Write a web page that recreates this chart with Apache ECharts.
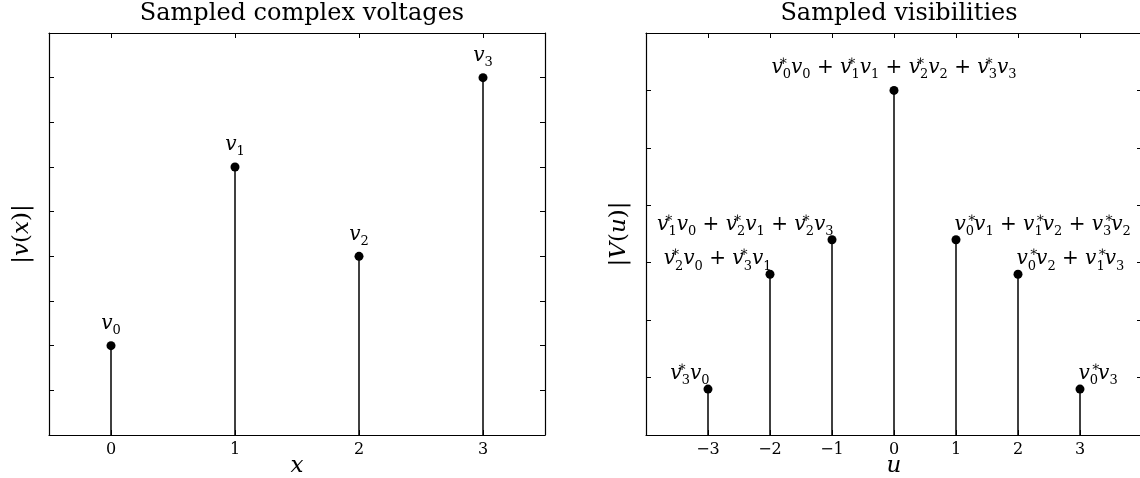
<!DOCTYPE html>
<html>
<head>
<meta charset="utf-8">
<script src="https://cdn.jsdelivr.net/npm/echarts@6/dist/echarts.min.js"></script>
<style>html,body{margin:0;padding:0;background:#fff}#c{width:1140px;height:478px}</style>
</head>
<body>
<div id="c"></div>
<script>
// ---- data ----
const xCategories = ['0', '1', '2', '3'];
const voltages = [2, 6, 4, 8];

const uValues = [-3, -2, -1, 0, 1, 2, 3];
const visibilities = [0.8, 2.8, 3.4, 6.0, 3.4, 2.8, 0.8];
// each term: [conjugated index, index]
const visibilityTerms = [
  [[3, 0]],
  [[2, 0], [3, 1]],
  [[1, 0], [2, 1], [2, 3]],
  [[0, 0], [1, 1], [2, 2], [3, 3]],
  [[0, 1], [1, 2], [3, 2]],
  [[0, 2], [1, 3]],
  [[0, 3]]
];
const leftTitle = 'Sampled complex voltages';
const rightTitle = 'Sampled visibilities';

// ---- helpers ----
const SERIF = "'DejaVu Serif', serif";
function vTok(i, star) {
  return '{v|v}' + (star ? '{sp|\u200a∗}' : '') + '{s|' + i + '}';
}
function visLabel(terms) {
  return terms.map(t => vTok(t[0], true) + vTok(t[1], false)).join('{t| + }');
}
const rich = {
  v: { fontFamily: SERIF, fontStyle: 'italic', fontSize: 20, color: '#000', lineHeight: 27, verticalAlign: 'middle' },
  s: { fontFamily: SERIF, fontSize: 13, color: '#000', lineHeight: 12, verticalAlign: 'bottom' },
  sp: { fontFamily: SERIF, fontSize: 14, color: '#000', lineHeight: 12, verticalAlign: 'top', align: 'left', width: 0.01 },
  t: { fontFamily: SERIF, fontSize: 20, color: '#000', lineHeight: 27 }
};
const nameRich = {
  n: { fontFamily: SERIF, fontSize: 23, color: '#000' },
  i: { fontFamily: SERIF, fontStyle: 'italic', fontSize: 23, color: '#000' }
};

const tickStyle = { show: true, inside: true, length: 5, lineStyle: { color: '#000', width: 1 } };
const lineStyle = { show: true, onZero: false, lineStyle: { color: '#000', width: 1.2 } };
const tickLabel = { fontFamily: SERIF, fontSize: 16, color: '#000', margin: 7 };

const chart = echarts.init(document.getElementById('c'), null, { renderer: 'canvas' });

const leftData = voltages.map((v, i) => ({
  value: [xCategories[i], v],
  label: { formatter: vTok(i, false) }
}));
const rightData = visibilities.map((v, i) => {
  const u = uValues[i];
  let label;
  if (u === 0) label = { position: [4.5, -5], align: 'center', verticalAlign: 'bottom' };
  else if (u < 0) label = { position: [6, 3], align: 'right', verticalAlign: 'bottom' };
  else label = { position: [3, 3], align: 'left', verticalAlign: 'bottom' };
  label.formatter = visLabel(visibilityTerms[i]);
  return { value: [u, v], label };
});

const titleStyle = { fontFamily: SERIF, fontWeight: 'normal', fontSize: 24, color: '#000' };
const nameBase = { nameLocation: 'middle', nameMoveOverlap: false, nameTextStyle: { rich: nameRich } };

chart.setOption({
  animation: false,
  title: [
    { text: leftTitle, left: 297, top: 0, padding: [2, 5], textAlign: 'center', textStyle: titleStyle },
    { text: rightTitle, left: 894, top: 0, padding: [2, 5], textAlign: 'center', textStyle: titleStyle }
  ],
  grid: [
    { left: 49, top: 33, width: 496, height: 402, outerBoundsMode: 'none', containLabel: false },
    { left: 646, top: 33, width: 496, height: 402, outerBoundsMode: 'none', containLabel: false }
  ],
  xAxis: [
    Object.assign({ gridIndex: 0, type: 'category', data: xCategories, boundaryGap: true, position: 'bottom',
      axisLine: lineStyle, axisTick: Object.assign({ alignWithLabel: true }, tickStyle), axisLabel: tickLabel,
      splitLine: { show: false }, name: '{i|x}', nameGap: 20 }, nameBase),
    { gridIndex: 0, type: 'category', data: xCategories, boundaryGap: true, position: 'top',
      axisLine: lineStyle, axisTick: Object.assign({ alignWithLabel: true }, tickStyle), axisLabel: { show: false }, splitLine: { show: false } },
    Object.assign({ gridIndex: 1, type: 'value', min: -4, max: 4, interval: 1, position: 'bottom',
      axisLine: lineStyle, axisTick: tickStyle,
      axisLabel: Object.assign({}, tickLabel, { formatter: v => (Math.abs(v) >= 4 ? '' : (v < 0 ? '\u2212' + (-v) : String(v))) }),
      splitLine: { show: false }, name: '{i|u}', nameGap: 20 }, nameBase),
    { gridIndex: 1, type: 'value', min: -4, max: 4, interval: 1, position: 'top',
      axisLine: lineStyle, axisTick: tickStyle, axisLabel: { show: false }, splitLine: { show: false } }
  ],
  yAxis: [
    Object.assign({ gridIndex: 0, type: 'value', min: 0, max: 9, interval: 1, position: 'left',
      axisLine: lineStyle, axisTick: tickStyle, axisLabel: { show: false }, splitLine: { show: false },
      name: '{n||}{i|v}{n|(}{i|x}{n|)|}', nameGap: 15, nameRotate: 90 }, nameBase),
    { gridIndex: 0, type: 'value', min: 0, max: 9, interval: 1, position: 'right',
      axisLine: lineStyle, axisTick: tickStyle, axisLabel: { show: false }, splitLine: { show: false } },
    Object.assign({ gridIndex: 1, type: 'value', min: 0, max: 7, interval: 1, position: 'left',
      axisLine: lineStyle, axisTick: tickStyle, axisLabel: { show: false }, splitLine: { show: false },
      name: '{n||}{i|V}{n|(}{i|u}{n|)|}', nameGap: 15, nameRotate: 90 }, nameBase),
    { gridIndex: 1, type: 'value', min: 0, max: 7, interval: 1, position: 'right',
      axisLine: lineStyle, axisTick: tickStyle, axisLabel: { show: false }, splitLine: { show: false } }
  ],
  series: [
    { type: 'bar', xAxisIndex: 0, yAxisIndex: 0, data: voltages.map((v, i) => [xCategories[i], v]),
      barWidth: 1.5, itemStyle: { color: '#000' }, silent: true },
    { type: 'scatter', xAxisIndex: 0, yAxisIndex: 0, data: leftData, symbol: 'circle', symbolSize: 9,
      itemStyle: { color: '#000', opacity: 1 }, label: { show: true, position: 'top', distance: 4, rich: rich }, z: 5 },
    { type: 'bar', xAxisIndex: 2, yAxisIndex: 2, data: visibilities.map((v, i) => [uValues[i], v]),
      barWidth: 1.5, itemStyle: { color: '#000' }, silent: true },
    { type: 'scatter', xAxisIndex: 2, yAxisIndex: 2, data: rightData, symbol: 'circle', symbolSize: 9,
      itemStyle: { color: '#000', opacity: 1 }, label: { show: true, rich: rich }, z: 5 }
  ]
});
</script>
</body>
</html>
